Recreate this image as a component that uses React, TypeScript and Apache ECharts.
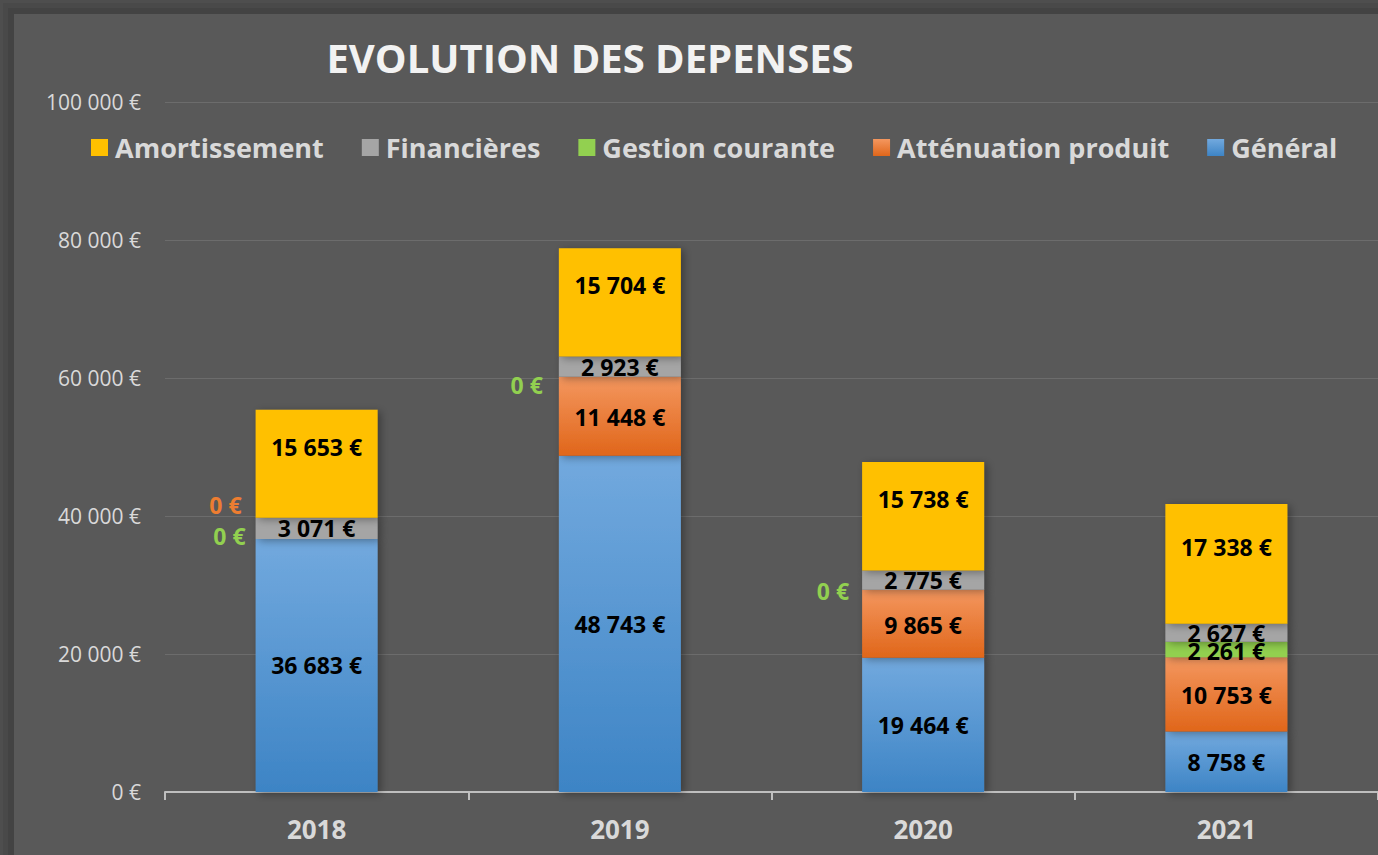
import React, { useEffect, useRef } from "react";
import * as echarts from "echarts";

const years = ["2018", "2019", "2020", "2021"];
const general = [36683, 48743, 19464, 8758];
const attenuation = [0, 11448, 9865, 10753];
const gestion = [0, 0, 0, 2261];
const financieres = [3071, 2923, 2775, 2627];
const amortissement = [15653, 15704, 15738, 17338];
const yTicks = [0, 20000, 40000, 60000, 80000, 100000];
const legendOrder = ["Amortissement", "Financières", "Gestion courante", "Atténuation produit", "Général"];

const FONT = "'Open Sans', 'Noto Sans', sans-serif";

const fmt = (v: number) => String(Math.round(v)).replace(/\B(?=(\d{3})+(?!\d))/g, " ") + " €";

// label placement for zero-valued segments (style only)
const zeroLabelShift: Record<string, Record<number, [number, number, number]>> = {
  "Atténuation produit": { 0: [14, 0, -34] },
  "Gestion courante": { 0: [10, 0, -3], 1: [16, 0, 8], 2: [13, 0, 1] },
};

const grad = (top: string, bottom: string) =>
  new echarts.graphic.LinearGradient(0, 0, 0, 1, [
    { offset: 0, color: top },
    { offset: 1, color: bottom },
  ]);

export default function App() {
  const ref = useRef<HTMLDivElement>(null);
  useEffect(() => {
    if (!ref.current) return;
    const chart = echarts.init(ref.current, undefined, { renderer: "svg" });

    const defs = [
      { name: "Général", data: general, color: grad("#72a9de", "#3d84c5"), zero: "#5b9bd5", dy: 0 },
      { name: "Atténuation produit", data: attenuation, color: grad("#f4975f", "#e0661a"), zero: "#ed7d31", dy: 1 },
      { name: "Gestion courante", data: gestion, color: "#92d050", zero: "#92d050", dy: 1 },
      { name: "Financières", data: financieres, color: "#a5a5a5", zero: "#a5a5a5", dy: 0 },
      { name: "Amortissement", data: amortissement, color: "#ffc000", zero: "#ffc000", dy: -17 },
    ];

    const series = defs.map((d) => ({
      name: d.name,
      type: "bar",
      stack: "total",
      barWidth: 122,
      itemStyle: {
        color: d.color,
        shadowBlur: 8,
        shadowOffsetX: 3,
        shadowOffsetY: 2,
        shadowColor: "rgba(0,0,0,0.35)",
      },
      label: {
        show: true,
        position: "inside",
        offset: [0, d.dy],
        color: "#000",
        fontFamily: FONT,
        fontWeight: "bold",
        fontSize: 23,
        formatter: (p: any) => fmt(p.value),
      },
      data: d.data.map((v, i) => {
        if (v !== 0) return v;
        const s = (zeroLabelShift[d.name] || {})[i] || [10, 0, 0];
        return {
          value: v,
          label: {
            show: true,
            position: "left",
            distance: s[0],
            offset: [s[1], s[2]],
            color: d.zero,
          },
        };
      }),
    }));

    chart.setOption({
      animation: false,
      backgroundColor: "#4e4e4e",
      graphic: [
        { type: "rect", shape: { x: 3, y: 3, width: 1400, height: 900 }, style: { fill: "#494949" }, z: -10 },
        { type: "rect", shape: { x: 8, y: 8, width: 1400, height: 900 }, style: { fill: "#434343" }, z: -10 },
        { type: "rect", shape: { x: 14, y: 14, width: 1400, height: 900 }, style: { fill: "#595959" }, z: -10 },
        {
          type: "text",
          x: 590,
          y: 57,
          z: 10,
          style: {
            text: "EVOLUTION DES DEPENSES",
            fill: "#f2f2f2",
            font: `bold 40px ${FONT}`,
            align: "center",
            verticalAlign: "middle",
            shadowBlur: 4,
            shadowOffsetY: 2,
            shadowColor: "rgba(0,0,0,0.6)",
          },
        },
      ],
      legend: {
        data: legendOrder,
        left: 86,
        top: 129,
        itemWidth: 17,
        itemHeight: 17,
        itemGap: 38,
        icon: "rect",
        textStyle: { color: "#d9d9d9", fontFamily: FONT, fontWeight: "bold", fontSize: 27, padding: [0, 0, 0, 2] },
      },
      grid: { left: 165, top: 102, width: 1218, height: 690, containLabel: false },
      xAxis: {
        type: "category",
        data: years,
        axisLine: { lineStyle: { color: "#bfbfbf", width: 2 } },
        axisTick: { show: true, length: 8, lineStyle: { color: "#bfbfbf", width: 2 } },
        axisLabel: { color: "#d9d9d9", fontFamily: FONT, fontWeight: "bold", fontSize: 26, margin: 24 },
      },
      yAxis: {
        type: "value",
        min: yTicks[0],
        max: yTicks[yTicks.length - 1],
        interval: yTicks[1] - yTicks[0],
        axisLine: { show: false },
        axisTick: { show: false },
        splitLine: { lineStyle: { color: "#6c6c6c", width: 1 } },
        axisLabel: { color: "#d9d9d9", fontFamily: FONT, fontSize: 21, margin: 24, formatter: (v: number) => fmt(v) },
      },
      series,
    });
    return () => chart.dispose();
  }, []);
  return <div ref={ref} style={{ position: "fixed", left: 0, top: 0, width: 1378, height: 855 }} />;
}
